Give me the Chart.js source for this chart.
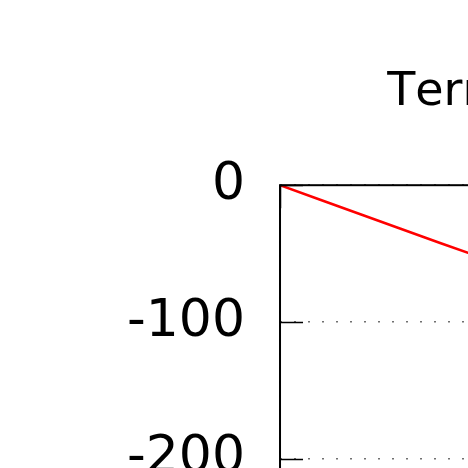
<!DOCTYPE html>
<html lang="en">
<head>
    <meta charset="UTF-8">
    <title>Terminal Velocity</title>
    <script src="https://cdn.jsdelivr.net/npm/chart.js"></script>
    <style>
        html, body { margin: 0; padding: 0; overflow: hidden; background: #fff; }
        canvas { display: block; }
    </style>
</head>
<body>
    <canvas id="velocityChart" width="1172" height="708"></canvas>
    <script>
        // time (s) and velocity
        const times = [0, 2, 4, 6, 8, 10, 12, 14, 16, 18, 20, 22, 24, 26, 28, 30, 32, 34, 36, 38, 40];
        const velocity = [0, -10.6, -21.2, -31.8, -42.4, -52.8, -63.1, -73.2, -83.1, -92.7, -102.0,
                          -111.0, -119.6, -127.8, -135.6, -143.0, -149.9, -156.3, -162.2, -167.6, -172.5];
        const yTicks = [0, -100, -200, -300];

        const tickLen = 23;

        // gnuplot style frame with inward tick marks
        const framePlugin = {
            id: 'frame',
            beforeDraw(chart) {
                chart.ctx.fontKerning = 'none';
            },
            afterDraw(chart) {
                const ctx = chart.ctx;
                const a = chart.chartArea;
                const ys = chart.scales.y;
                const xs = chart.scales.x;
                ctx.save();
                ctx.strokeStyle = '#000';
                ctx.lineWidth = 1.5;
                ctx.beginPath();
                ys.ticks.forEach(t => {
                    const py = Math.round(ys.getPixelForValue(t.value)) + 0.5;
                    ctx.moveTo(a.left, py); ctx.lineTo(a.left + tickLen, py);
                    ctx.moveTo(a.right, py); ctx.lineTo(a.right - tickLen, py);
                });
                xs.ticks.forEach(t => {
                    const px = Math.round(xs.getPixelForValue(t.value)) + 0.5;
                    ctx.moveTo(px, a.bottom); ctx.lineTo(px, a.bottom - tickLen);
                    ctx.moveTo(px, a.top); ctx.lineTo(px, a.top + tickLen);
                });
                ctx.stroke();
                ctx.lineWidth = 2;
                ctx.strokeRect(a.left, a.top, a.right - a.left, a.bottom - a.top);
                ctx.restore();
            }
        };

        const gridDots = {
            color: '#707070',
            lineWidth: 1.5,
            drawTicks: false
        };

        new Chart(document.getElementById('velocityChart').getContext('2d'), {
            type: 'line',
            data: {
                datasets: [{
                    data: times.map((t, i) => ({ x: t, y: velocity[i] })),
                    borderColor: '#ff0000',
                    borderWidth: 2.5,
                    pointRadius: 0,
                    tension: 0,
                    fill: false
                }]
            },
            options: {
                responsive: false,
                animation: false,
                devicePixelRatio: 1,
                layout: { padding: { left: 92, right: 88, top: 0, bottom: 10 } },
                plugins: {
                    legend: { display: false },
                    tooltip: { enabled: false },
                    title: {
                        display: true,
                        text: 'Terminal Velocity',
                        color: '#000',
                        font: { family: 'DejaVu Sans', size: 46, weight: 'normal', lineHeight: 1.2 },
                        padding: { top: 65, bottom: 65 }
                    }
                },
                scales: {
                    x: {
                        type: 'linear',
                        min: 0,
                        max: 40,
                        border: { display: false, dash: [2, 12] },
                        grid: gridDots,
                        ticks: {
                            stepSize: 10,
                            padding: 20,
                            color: '#000',
                            font: { family: 'DejaVu Sans', size: 52 }
                        }
                    },
                    y: {
                        min: -300,
                        max: 0,
                        border: { display: false, dash: [2, 12] },
                        grid: gridDots,
                        afterBuildTicks: scale => { scale.ticks = yTicks.map(v => ({ value: v })); },
                        ticks: {
                            padding: 35,
                            color: '#000',
                            font: { family: 'DejaVu Sans', size: 52 }
                        }
                    }
                }
            },
            plugins: [framePlugin]
        });
    </script>
</body>
</html>
